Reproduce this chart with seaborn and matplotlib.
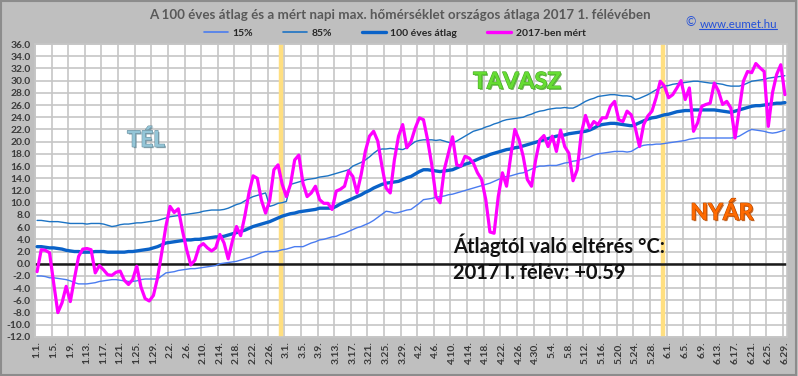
import numpy as np
import pandas as pd
import matplotlib
matplotlib.use("Agg")
import matplotlib.pyplot as plt
import seaborn as sns
from matplotlib import patheffects as pe
from matplotlib.lines import Line2D

sns.set_theme(style="white")
plt.rcParams["font.family"] = ["Lato", "DejaVu Sans"]

# ---------------- data ----------------
tick_labels = ["1.1.", "1.5.", "1.9.", "1.13.", "1.17.", "1.21.", "1.25.", "1.29.",
               "2.2.", "2.6.", "2.10.", "2.14.", "2.18.", "2.22.", "2.26.",
               "3.1.", "3.5.", "3.9.", "3.13.", "3.17.", "3.21.", "3.25.", "3.29.",
               "4.2.", "4.6.", "4.10.", "4.14.", "4.18.", "4.22.", "4.26.", "4.30.",
               "5.4.", "5.8.", "5.12.", "5.16.", "5.20.", "5.24.", "5.28.",
               "6.1.", "6.5.", "6.9.", "6.13.", "6.17.", "6.21.", "6.25.", "6.29."]

measured = [
    -1.3, 2.3, 2.2, 1.8, -3.2, -8.0, -6.4, -3.7, -6.2, -2.4,
    1.2, 2.4, 2.5, 2.3, -1.5, -0.3, -1.0, -1.8, -1.9, -1.4,
    -1.2, -2.7, -3.4, -2.6, -0.4, -3.8, -5.7, -6.1, -5.2, -2.3,
    1.8, 6.1, 9.4, 8.4, 9.0, 5.4, 2.3, -0.2, 0.6, 2.8,
    3.3, 2.6, 2.1, 2.6, 4.8, 3.4, 0.8, 3.7, 6.1, 4.6,
    7.8, 11.6, 14.4, 14.0, 10.4, 8.3, 10.4, 15.4, 16.2, 13.0,
    11.0, 13.0, 17.0, 17.8, 13.2, 11.0, 11.6, 12.7, 10.5, 9.9,
    9.9, 8.9, 11.9, 12.2, 12.7, 15.2, 14.3, 11.6, 14.6, 18.4,
    20.9, 21.7, 20.1, 16.0, 12.4, 11.6, 17.0, 20.9, 22.8, 19.0,
    20.0, 22.2, 23.9, 23.6, 20.3, 16.2, 11.0, 10.0, 15.4, 18.1,
    20.8, 16.2, 16.0, 17.6, 17.3, 16.5, 14.9, 13.8, 10.5, 5.2,
    5.0, 11.0, 14.9, 12.7, 17.6, 22.0, 20.3, 17.6, 13.8, 12.7,
    17.0, 20.3, 21.0, 19.2, 20.9, 18.4, 21.9, 19.2, 18.1, 13.6,
    15.4, 21.4, 24.3, 22.2, 23.3, 22.8, 23.9, 23.9, 25.8, 26.6,
    23.6, 23.3, 25.0, 24.4, 22.2, 19.2, 22.8, 24.2, 25.0, 27.2,
    29.9, 29.1, 27.2, 27.7, 28.8, 30.0, 26.9, 28.8, 21.7, 23.1,
    25.8, 26.1, 26.3, 29.6, 28.3, 26.1, 26.6, 25.5, 20.6, 25.2,
    29.9, 31.5, 31.3, 32.8, 32.1, 31.5, 22.5, 28.0, 31.0, 32.6,
    27.7]

avg100 = [
    2.8, 2.8, 2.7, 2.6, 2.6, 2.5, 2.4, 2.2, 2.1, 2.0, 2.0,
    1.9, 1.9, 1.9, 2.0, 2.0, 2.0, 1.9, 1.9, 1.9, 1.9,
    1.9, 2.0, 2.0, 2.1, 2.2, 2.3, 2.4, 2.6, 2.8, 3.1,
    3.4, 3.5, 3.6, 3.7, 3.8, 3.9, 3.9, 4.0, 4.0, 4.1,
    4.2, 4.3, 4.4, 4.4, 4.5, 4.7, 4.9, 5.1, 5.3, 5.5,
    5.8, 6.1, 6.3, 6.5, 6.7, 6.9, 7.2, 7.5, 7.8, 8.0,
    8.2, 8.3, 8.5, 8.6, 8.7, 8.8, 8.9, 9.1, 9.1, 9.1,
    9.1, 9.4, 9.8, 10.1, 10.4, 10.7, 11.0, 11.3, 11.7, 12.0,
    12.4, 12.7, 13.0, 13.2, 13.3, 13.4, 13.5, 13.8, 14.1, 14.3,
    14.7, 15.1, 15.4, 15.4, 15.3, 15.2, 15.1, 15.2, 15.3, 15.4,
    15.7, 16.0, 16.3, 16.5, 16.8, 17.1, 17.4, 17.6, 17.9, 18.1,
    18.3, 18.5, 18.7, 18.8, 19.0, 19.1, 19.3, 19.5, 19.7, 19.9,
    20.1, 20.3, 20.5, 20.7, 20.9, 21.0, 21.1, 21.3, 21.4, 21.5,
    21.6, 21.7, 21.9, 22.2, 22.6, 22.8, 22.9, 23.0, 23.0, 22.9,
    22.8, 22.7, 22.6, 22.8, 23.1, 23.4, 23.7, 23.9, 24.0, 24.2,
    24.4, 24.5, 24.7, 24.9, 25.0, 25.1, 25.1, 25.2, 25.2, 25.2,
    25.2, 25.2, 25.2, 25.1, 25.0, 24.9, 24.8, 25.0, 25.2, 25.4,
    25.6, 25.8, 25.9, 25.9, 26.0, 26.1, 26.2, 26.3, 26.3, 26.4]

p15 = [
    -2.0, -2.0, -2.1, -2.3, -2.3, -2.4, -2.5, -2.6, -2.8, -3.1, -3.3,
    -3.3, -3.3, -3.2, -3.1, -2.9, -2.8, -2.7, -2.6, -2.6, -2.7,
    -2.8, -2.9, -2.9, -2.8, -2.6, -2.5, -2.5, -2.5, -2.5, -2.0,
    -1.5, -1.4, -1.3, -1.1, -1.0, -0.9, -0.8, -0.8, -0.7, -0.6,
    -0.5, -0.4, -0.3, 0.0, 0.1, 0.2, 0.3, 0.4, 0.6, 0.8,
    1.0, 1.2, 1.5, 1.8, 2.0, 2.0, 2.0, 2.1, 2.3, 2.4,
    2.6, 2.8, 2.8, 2.8, 3.1, 3.4, 3.6, 3.9, 4.0, 4.2,
    4.4, 4.5, 4.8, 5.0, 5.3, 5.6, 5.9, 6.1, 6.4, 6.7,
    7.1, 7.6, 8.1, 8.6, 8.5, 8.3, 8.4, 8.6, 8.8, 8.9,
    9.4, 9.9, 10.5, 10.6, 10.7, 10.9, 11.0, 11.1, 11.3, 11.4,
    11.6, 11.8, 12.0, 12.2, 12.4, 12.6, 12.8, 13.0, 13.2, 13.5,
    13.8, 14.1, 14.3, 14.4, 14.6, 14.8, 14.9, 15.2, 15.5, 15.8,
    16.0, 16.0, 16.1, 16.1, 16.1, 16.3, 16.5, 16.6, 16.8, 16.9,
    17.1, 17.3, 17.5, 17.8, 18.0, 18.1, 18.2, 18.3, 18.4, 18.4,
    18.4, 18.3, 18.4, 18.8, 19.2, 19.4, 19.5, 19.5, 19.6, 19.6,
    19.7, 19.8, 19.9, 20.0, 20.1, 20.2, 20.4, 20.5, 20.6, 20.6,
    20.6, 20.6, 20.6, 20.6, 20.6, 20.6, 20.6, 20.7, 20.9, 21.3,
    21.7, 22.0, 21.9, 21.8, 21.7, 21.5, 21.4, 21.5, 21.7, 21.9]

p85 = [
    7.1, 7.1, 7.0, 6.9, 6.9, 6.9, 6.8, 6.7, 6.6, 6.6, 6.6,
    6.6, 6.5, 6.6, 6.6, 6.6, 6.5, 6.3, 6.1, 6.2, 6.4,
    6.5, 6.5, 6.6, 6.7, 6.7, 6.8, 6.9, 7.0, 7.1, 7.3,
    7.5, 7.7, 7.8, 7.9, 8.0, 8.1, 8.2, 8.3, 8.4, 8.6,
    8.7, 8.8, 8.8, 8.8, 8.9, 9.1, 9.4, 9.7, 9.9, 10.3,
    10.7, 11.0, 11.2, 11.4, 11.6, 9.4, 9.6, 9.9, 10.0, 10.2,
    13.0, 13.2, 13.4, 13.6, 13.8, 13.9, 14.0, 14.2, 14.3, 14.4,
    14.6, 14.8, 15.0, 15.2, 15.4, 16.0, 16.3, 16.6, 17.0, 17.5,
    18.1, 18.6, 18.8, 18.8, 18.9, 18.8, 18.8, 18.7, 19.0, 19.5,
    20.0, 20.2, 20.3, 20.3, 20.3, 20.2, 20.3, 20.1, 19.9, 19.8,
    20.1, 20.5, 20.9, 21.3, 21.7, 21.9, 22.1, 22.4, 22.6, 22.9,
    23.1, 23.4, 23.6, 23.7, 23.8, 23.9, 24.0, 24.3, 24.5, 24.8,
    25.0, 25.1, 25.3, 25.4, 25.5, 25.5, 25.6, 25.5, 25.5, 25.8,
    26.2, 26.6, 26.9, 27.1, 27.4, 27.5, 27.6, 27.7, 27.7, 27.6,
    27.5, 27.5, 27.4, 26.9, 27.1, 27.4, 27.7, 28.1, 28.5, 28.8,
    29.1, 29.2, 29.4, 29.5, 29.6, 29.7, 29.8, 29.9, 29.9, 29.8,
    29.7, 29.6, 29.6, 29.5, 29.4, 29.2, 29.1, 29.1, 29.1, 29.3,
    29.6, 29.9, 30.0, 30.1, 30.2, 30.4, 30.5, 30.6, 30.7, 30.8]

season_marks = [59, 151]          # 2.29. and 5.31.
deviation_text = ["Átlagtól való eltérés °C:", "2017 I. félév: +0.59"]

# ---------------- figure ----------------
W, H = 798, 376
n = len(measured)
days = np.arange(n)
df = pd.DataFrame({"day": days, "15%": p15, "85%": p85,
                   "100 éves átlag": avg100, "2017-ben mért": measured})

fig = plt.figure(figsize=(W / 100, H / 100), dpi=100, facecolor="#bfbfbf")
ax = fig.add_axes([35 / W, 39 / H, 752 / W, 293 / H])
ax.set_facecolor("white")

grid_c = "#c6c6c6"
ax.set_xlim(-0.5, n - 0.5)
ax.set_ylim(-12, 36)
ax.set_yticks(np.arange(-12, 37, 2))
ax.set_yticklabels([f"{v:.1f}" for v in np.arange(-12, 37, 2)])
ax.set_xticks(np.arange(0, n, 4))
ax.set_xticklabels(tick_labels, rotation=90)
ax.set_xticks(np.arange(-0.5, n, 4), minor=True)
ax.grid(False)
ax.grid(True, axis="y", which="major", color=grid_c, lw=1.2, zorder=0)
ax.grid(True, axis="x", which="minor", color=grid_c, lw=1.2, zorder=0)
ax.tick_params(axis="both", which="both", length=0)
ax.tick_params(axis="y", pad=3, labelsize=7.4, labelcolor="#3a3a3a")
ax.tick_params(axis="x", pad=3, labelsize=7.4, labelcolor="#3a3a3a")
for lab in ax.get_xticklabels() + ax.get_yticklabels():
    lab.set_fontweight("bold")
for s in ax.spines.values():
    s.set_color(grid_c)
    s.set_linewidth(1.2)

# season markers
for m in season_marks:
    ax.axvline(m - 0.3, color="#ffdf80", lw=3.2, zorder=1)

ax.axhline(0, color="#1a1a1a", lw=1.8, zorder=2)

styles = {
    "15%": dict(color="#4a7cf0", lw=1.0),
    "85%": dict(color="#1c73c4", lw=1.0),
    "100 éves átlag": dict(color="#0a62c8", lw=2.4),
    "2017-ben mért": dict(color="#ff00ff", lw=2.3),
}
for name, st in styles.items():
    sns.lineplot(data=df, x="day", y=name, ax=ax, color=st["color"],
                 linewidth=st["lw"], zorder=3, legend=False)
ax.set_xlabel("")
ax.set_ylabel("")

# legend
handles = [Line2D([], [], color=st["color"], lw=(2.4 if st["lw"] > 2 else 1.2))
           for st in styles.values()]
leg = fig.legend(handles, list(styles.keys()), ncol=4, loc="center",
                 bbox_to_anchor=(395 / W, 1 - 33 / H), frameon=False,
                 handlelength=2.3, handletextpad=0.4, columnspacing=2.9,
                 prop={"size": 7.5, "weight": "bold"})
for t in leg.get_texts():
    t.set_color("#262626")

# title
fig.text(400 / W, 1 - 15 / H,
         "A 100 éves átlag és a mért napi max. hőmérséklet országos átlaga 2017 1. félévében",
         ha="center", va="center", fontsize=9.6, fontweight="bold", color="#595959")

# copyright
url = fig.text(777 / W, 1 - 24 / H, "www.eumet.hu", ha="right", va="center",
               fontsize=8.3, color="#2450d8")
fig.canvas.draw()
r = fig.canvas.get_renderer()
bb = url.get_window_extent(r)
fig.text((bb.x0 - 4) / W, 1 - 22 / H, "©", ha="right", va="center",
         fontsize=9, color="#2450d8")
fig.add_artist(Line2D([bb.x0 / W, bb.x1 / W], [(bb.y0 + 1) / H] * 2,
                      color="#2450d8", lw=0.8, transform=fig.transFigure))

# season labels (light fill with soft dark shadow)
def season(x, y, txt, fc, ec, size):
    fig.text(x / W, 1 - y / H, txt, ha="center", va="center", fontsize=size,
             fontweight="bold", color=fc,
             path_effects=[pe.SimplePatchShadow(offset=(1, -1), shadow_rgbFace=ec, alpha=0.8),
                           pe.withStroke(linewidth=0.8, foreground=ec)])

season(146, 140, "TÉL", "#94c6d8", "#6b8e9c", 16)
season(517, 82, "TAVASZ", "#66dd33", "#4aa82a", 16.5)
season(722, 213, "NYÁR", "#ff6a00", "#b84a00", 16.5)

fig.text(453 / W, 1 - 245 / H, deviation_text[0], ha="left", va="center",
         fontsize=14.5, fontweight="bold", color="#111111")
fig.text(453 / W, 1 - 273 / H, deviation_text[1], ha="left", va="center",
         fontsize=14.5, fontweight="bold", color="#111111")

# outer border
fig.add_artist(matplotlib.patches.Rectangle((0.001, 0.002), 0.997, 0.995,
               transform=fig.transFigure, fill=False, edgecolor="#8c8c8c", lw=1.5))

fig.savefig("out.png", dpi=100, facecolor=fig.get_facecolor())
